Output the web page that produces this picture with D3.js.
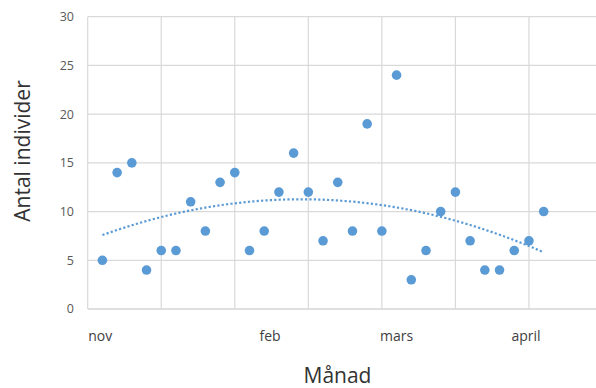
<!DOCTYPE html>
<html>
<head>
<meta charset="utf-8">
<script src="https://cdn.jsdelivr.net/npm/d3@7"></script>
<style>
  html, body { margin: 0; padding: 0; background: #fff; }
  svg { display: block; font-family: "Open Sans", Lato, sans-serif; }
</style>
</head>
<body>
<svg id="chart" width="596" height="388"></svg>
<script>
// Observation number (day index) and count of individuals
const obsIndex = d3.range(1, 32);
const counts = [5, 14, 15, 4, 6, 6, 11, 8, 13, 14, 6, 8, 12, 16, 12, 7, 13, 8, 19, 8, 24, 3, 6, 10, 12, 7, 4, 4, 6, 7, 10];
const yTicks = [0, 5, 10, 15, 20, 25, 30];
const xGrid = [0, 5, 10, 15, 20, 25, 30, 35];
const monthLabels = ["nov", "feb", "mars", "april"];
const monthAt = [0.85, 12.4, 21, 29.8];

const svg = d3.select("#chart");
const plotL = 87.7, plotR = 602.5, plotT = 16.7, plotB = 309;

const x = d3.scaleLinear().domain([0, 35]).range([plotL, plotR]);
const y = d3.scaleLinear().domain([0, 30]).range([plotB, plotT]);

// grid
svg.append("g").selectAll("line").data(yTicks).join("line")
  .attr("x1", plotL).attr("x2", plotR)
  .attr("y1", d => y(d)).attr("y2", d => y(d))
  .attr("stroke", d => d === 0 ? "#bfbfbf" : "#d9d9d9").attr("stroke-width", 1.2);
svg.append("g").selectAll("line").data(xGrid).join("line")
  .attr("x1", d => x(d)).attr("x2", d => x(d))
  .attr("y1", plotT).attr("y2", plotB)
  .attr("stroke", "#d9d9d9").attr("stroke-width", 1.2);

// y tick labels
svg.append("g").selectAll("text").data(yTicks).join("text")
  .attr("x", 74).attr("y", d => y(d)).attr("dy", "0.35em")
  .attr("text-anchor", "end").attr("font-size", 12.5).attr("fill", "#595959")
  .text(d => d);

// month labels
svg.append("g").selectAll("text").data(monthLabels).join("text")
  .attr("x", (d, i) => x(monthAt[i])).attr("y", 341)
  .attr("text-anchor", "middle").attr("font-size", 14).attr("fill", "#404040")
  .text(d => d);

// axis titles
svg.append("text").attr("x", 337.5).attr("y", 383)
  .attr("text-anchor", "middle").attr("font-size", 21).attr("fill", "#333")
  .text("Månad");
svg.append("text")
  .attr("transform", `translate(30,${151}) rotate(-90)`)
  .attr("text-anchor", "middle").attr("font-size", 21).attr("fill", "#333")
  .text("Antal individer");

// second-order polynomial trend (least squares)
function polyFit2(xs, ys) {
  const s = [0, 0, 0, 0, 0], t = [0, 0, 0];
  xs.forEach((xv, i) => {
    for (let k = 0; k <= 4; k++) s[k] += Math.pow(xv, k);
    for (let k = 0; k <= 2; k++) t[k] += Math.pow(xv, k) * ys[i];
  });
  const A = [[s[0], s[1], s[2], t[0]], [s[1], s[2], s[3], t[1]], [s[2], s[3], s[4], t[2]]];
  for (let i = 0; i < 3; i++) {
    for (let j = i + 1; j < 3; j++) {
      const f = A[j][i] / A[i][i];
      for (let k = i; k < 4; k++) A[j][k] -= f * A[i][k];
    }
  }
  const c = [0, 0, 0];
  for (let i = 2; i >= 0; i--) {
    let v = A[i][3];
    for (let k = i + 1; k < 3; k++) v -= A[i][k] * c[k];
    c[i] = v / A[i][i];
  }
  return xv => c[0] + c[1] * xv + c[2] * xv * xv;
}
const trend = polyFit2(obsIndex, counts);
const trendPts = d3.range(1, 31.01, 0.25).map(v => [v, trend(v)]);
svg.append("path")
  .attr("d", d3.line().x(d => x(d[0])).y(d => y(d[1]))(trendPts))
  .attr("fill", "none").attr("stroke", "#5b9bd5").attr("stroke-width", 2.2)
  .attr("stroke-dasharray", "2.2,2.2");

// points
svg.append("g").selectAll("circle").data(counts).join("circle")
  .attr("cx", (d, i) => x(obsIndex[i])).attr("cy", d => y(d))
  .attr("r", 4.8).attr("fill", "#5b9bd5");
</script>
</body>
</html>
